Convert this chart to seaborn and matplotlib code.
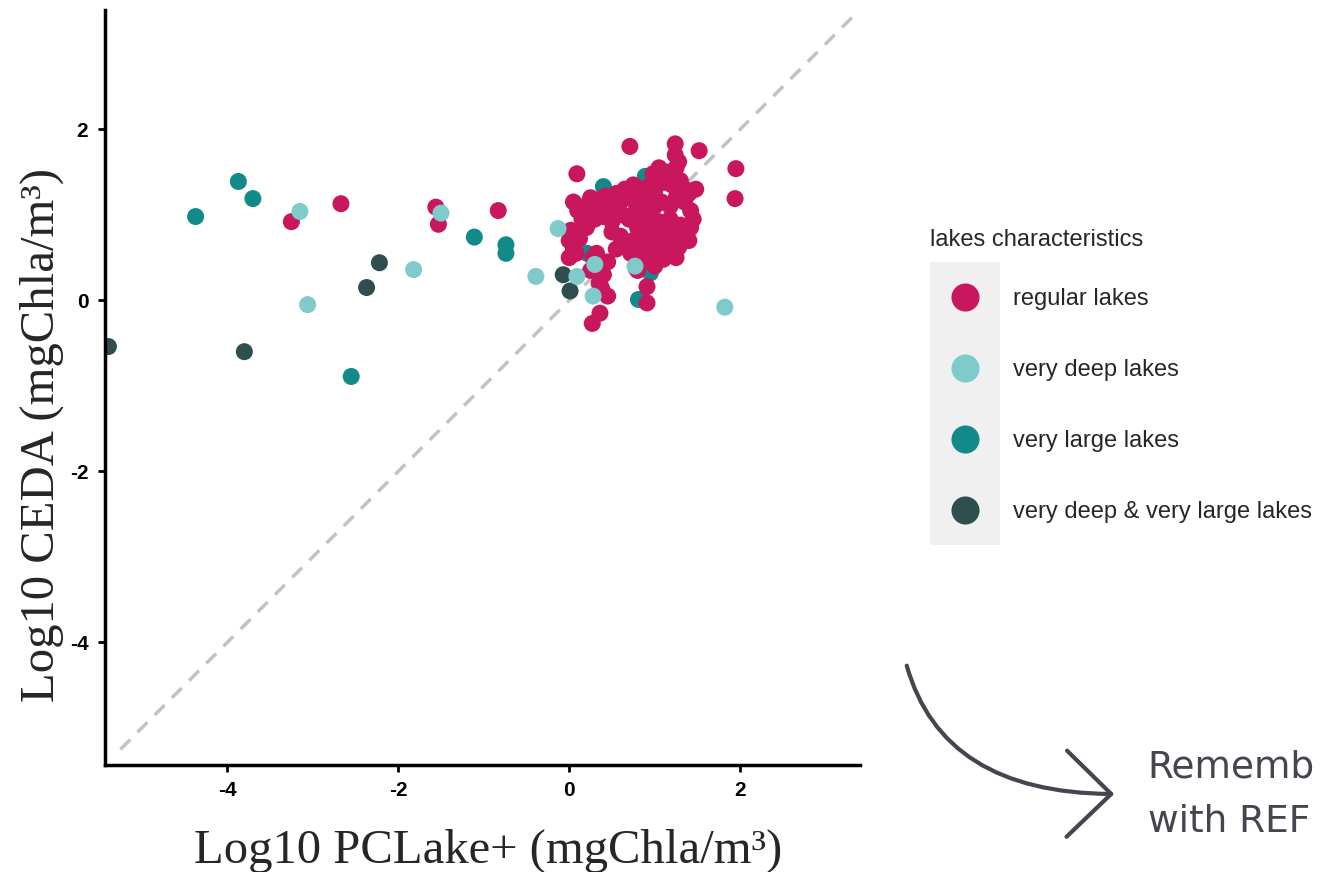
import numpy as np
import pandas as pd
import matplotlib
matplotlib.use("Agg")
import matplotlib.pyplot as plt
from matplotlib.patches import Rectangle, FancyArrowPatch
import seaborn as sns

# log10 chlorophyll-a: PCLake+ (x) vs CEDA (y), by lake class
regular_x = [0.05, 0.10, 0.18, 0.25, 0.30, 0.35, 0.42, 0.48, 0.55, 0.60, 0.65, 0.70, 0.75, 0.80,
             0.85, 0.90, 0.95, 1.00, 1.05, 1.10, 1.15, 1.20, 1.25, 1.30, 1.35, 1.28, 1.05, 0.98,
             0.15, 0.22, 0.40, 0.50, 0.62, 0.70, 0.78, 0.85, 0.92, 1.00, 1.08, 1.18, 1.25, 1.35,
             1.42, 1.45, 1.40, 1.48,
             0.80, 0.88, 0.95, 1.02, 1.10, 1.15, 1.22, 1.30, 1.35, 1.42, 0.75, 0.82, 0.90, 0.98,
             1.05, 1.12, 1.20, 1.28, 0.72, 0.85, 0.95, 1.00, 1.10, 0.78, 1.40, 1.25, 1.18, 1.05,
             0.95,
             0.00, 0.05, 0.00, 0.08, 0.12, 0.02, 0.20, 0.28, 0.32, 0.25, 0.40, 0.35, 0.45, 0.55,
             0.60, 0.65, 0.50, 0.30,
             0.71, 1.24, 1.52, 1.24, 0.09, 1.94, 1.95, 0.36, 0.27, 0.38, 0.91, 0.91, 0.80, 0.45,
             -3.25, -2.67, -1.56, -1.53, -0.83]
regular_y = [1.15, 1.05, 1.10, 1.20, 1.08, 1.15, 1.22, 1.10, 1.25, 1.15, 1.30, 1.20, 1.35, 1.25,
             1.30, 1.20, 1.35, 1.28, 1.45, 1.38, 1.50, 1.35, 1.55, 1.40, 1.30, 1.62, 1.55, 1.48,
             0.95, 0.90, 0.98, 0.92, 1.00, 0.95, 1.05, 0.95, 1.05, 1.10, 1.15, 1.10, 1.20, 1.15,
             1.05, 0.95, 1.25, 1.30,
             0.85, 0.78, 0.70, 0.80, 0.72, 0.85, 0.78, 0.88, 0.75, 0.85, 0.70, 0.62, 0.55, 0.60,
             0.65, 0.58, 0.65, 0.62, 0.55, 0.45, 0.50, 0.40, 0.48, 0.38, 0.70, 0.50, 0.95, 0.92,
             0.88,
             0.70, 0.60, 0.50, 0.55, 0.72, 0.82, 0.85, 0.50, 0.55, 0.35, 0.30, 0.20, 0.45, 0.60,
             0.75, 0.65, 0.80, 0.95,
             1.80, 1.83, 1.75, 1.70, 1.48, 1.19, 1.54, -0.15, -0.27, 0.14, -0.03, 0.16, 0.35, 0.05,
             0.92, 1.13, 1.09, 0.89, 1.05]

deep_x = [-3.15, -1.50, -1.82, -0.39, -3.06, -0.13, 0.09, 0.30, 0.28, 0.77, 1.82]
deep_y = [1.04, 1.02, 0.36, 0.28, -0.05, 0.84, 0.28, 0.42, 0.05, 0.40, -0.08]

large_x = [-4.37, -3.87, -3.70, -1.11, -0.74, -0.74, -2.55, 0.89, 0.40, 0.87, 0.56, 0.21, 0.95, 0.81]
large_y = [0.98, 1.39, 1.19, 0.74, 0.65, 0.55, -0.89, 1.45, 1.33, 1.12, 1.12, 0.55, 0.32, 0.01]

both_x = [-5.39, -3.80, -2.22, -2.37, -0.07, 0.01]
both_y = [-0.54, -0.60, 0.44, 0.15, 0.30, 0.11]

groups = ["regular lakes", "very deep lakes", "very large lakes", "very deep & very large lakes"]
colors = ["#C8175D", "#7FCACA", "#138A8A", "#2F4F4F"]

df = pd.concat([
    pd.DataFrame({"pclake": large_x, "ceda": large_y, "group": groups[2]}),
    pd.DataFrame({"pclake": both_x, "ceda": both_y, "group": groups[3]}),
    pd.DataFrame({"pclake": regular_x, "ceda": regular_y, "group": groups[0]}),
    pd.DataFrame({"pclake": deep_x, "ceda": deep_y, "group": groups[1]}),
], ignore_index=True)

sns.set_style("ticks")
plt.rcParams["font.family"] = ["Liberation Sans", "DejaVu Sans"]
plt.rcParams["axes.unicode_minus"] = False

fig = plt.figure(figsize=(13.29, 8.72), dpi=100)
ax = fig.add_axes([0.079, 0.123, 0.568, 0.866])

lims = (-5.43, 3.40)
ax.plot((-5.25, 3.35), (-5.25, 3.35), ls=(0, (4, 3)), color="#C2C2C2", lw=2.5, zorder=1)

sns.scatterplot(data=df, x="pclake", y="ceda", hue="group", hue_order=groups,
                palette=dict(zip(groups, colors)), s=150, linewidth=0, alpha=1,
                ax=ax, zorder=2)

ax.set_xlim(lims)
ax.set_ylim(lims)
ax.set_xticks([-4, -2, 0, 2])
ax.set_yticks([-4, -2, 0, 2])
for side in ["top", "right"]:
    ax.spines[side].set_visible(False)
for side in ["left", "bottom"]:
    ax.spines[side].set_linewidth(2.5)
    ax.spines[side].set_color("black")
ax.tick_params(length=5, width=2, colors="black")
ax.tick_params(axis="x", pad=7)
ax.tick_params(axis="y", pad=7)
for lab in ax.get_xticklabels() + ax.get_yticklabels():
    lab.set_fontweight("bold")
    lab.set_fontsize(15)

ax.set_xlabel("Log10 PCLake+ (mgChla/m³)", family="Liberation Serif", fontsize=35)
ax.set_ylabel("Log10 CEDA (mgChla/m³)", family="Liberation Serif", fontsize=35)
ax.xaxis.set_label_coords(0.507, -0.084)
ax.xaxis.label.set_va("top")
ax.yaxis.set_label_coords(-0.054, 0.437)

sns.move_legend(ax, "upper left", bbox_to_anchor=(930 / 1329, 1 - 229 / 872),
                bbox_transform=fig.transFigure, frameon=False,
                title="lakes characteristics", title_fontsize=17, fontsize=17,
                markerscale=1.65, handlelength=2.97, handletextpad=0.55,
                labelspacing=2.08, borderpad=0, borderaxespad=0, alignment="left")
leg = ax.get_legend()
leg._legend_box.sep = 26.6

# grey key column behind legend markers
fig.add_artist(Rectangle((930 / 1329, 1 - 545 / 872), 70 / 1329, 283 / 872,
                         transform=fig.transFigure, facecolor="#F0F0F0",
                         edgecolor="none", zorder=-1))

# curved arrow + note, bottom right
arrow = FancyArrowPatch((906 / 1329, 1 - 663 / 872), (1117 / 1329, 1 - 794 / 872),
                        transform=fig.transFigure,
                        connectionstyle="angle3,angleA=-75,angleB=0",
                        arrowstyle="->,head_length=1.6,head_width=1.55",
                        mutation_scale=20, lw=3, color="#45454F")
fig.add_artist(arrow)
fig.text(1147 / 1329, 1 - 777 / 872, "Rememb", fontsize=27, color="#45454F",
         family="DejaVu Sans", va="baseline")
fig.text(1148 / 1329, 1 - 832 / 872, "with REF", fontsize=27, color="#45454F",
         family="DejaVu Sans", va="baseline")

fig.savefig("out.png", dpi=100)
